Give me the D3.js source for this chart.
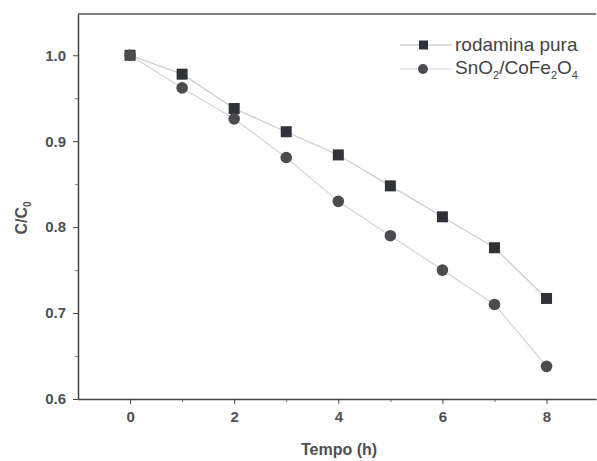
<!DOCTYPE html>
<html>
<head>
<meta charset="utf-8">
<script src="https://cdn.jsdelivr.net/npm/d3@7"></script>
<style>
  body { margin: 0; background: #fff; }
  text { font-family: "Liberation Sans", Arial, sans-serif; }
</style>
</head>
<body>
<div id="chart"></div>
<script>
// data
var tempo = [0, 1, 2, 3, 4, 5, 6, 7, 8]
var rodaminaPura = [1.0, 0.978, 0.938, 0.911, 0.884, 0.848, 0.812, 0.776, 0.717]
var snoCofe = [1.0, 0.962, 0.926, 0.881, 0.830, 0.790, 0.750, 0.710, 0.638]
var xTicks = [0, 2, 4, 6, 8]
var yTicks = [0.6, 0.7, 0.8, 0.9, 1.0]

var width = 597, height = 461
// plot box (note: "top" is reserved on window, so use prefixed names)
var pLeft = 78, pRight = 596, pTop = 14, pBottom = 399

var svg = d3.select('#chart')
    .append('svg')
    .attr('width', width)
    .attr('height', height)

var x = d3.scaleLinear().domain([-1, 8.95]).range([pLeft, pRight])
var y = d3.scaleLinear().domain([0.6, 1.048]).range([pBottom, pTop])

// frame (top line)
svg.append('line')
    .attr('x1', pLeft).attr('x2', pRight)
    .attr('y1', pTop).attr('y2', pTop)
    .attr('stroke', '#555')
    .attr('stroke-width', 1.5)

// minor ticks
svg.append('g')
    .attr('transform', 'translate(0,' + pBottom + ')')
    .call(d3.axisBottom(x).tickValues([1, 3, 5, 7]).tickSize(3).tickFormat(''))
    .call(function(g) { g.select('.domain').remove() })
    .selectAll('line').attr('stroke', '#777')

svg.append('g')
    .attr('transform', 'translate(' + pLeft + ',0)')
    .call(d3.axisLeft(y).tickValues([0.65, 0.75, 0.85, 0.95]).tickSize(3).tickFormat(''))
    .call(function(g) { g.select('.domain').remove() })
    .selectAll('line').attr('stroke', '#777')

var xAxis = svg.append('g')
    .attr('transform', 'translate(0,' + pBottom + ')')
    .call(d3.axisBottom(x).tickValues(xTicks).tickSize(5).tickPadding(7).tickSizeOuter(0))
xAxis.select('.domain').attr('stroke', '#444').attr('stroke-width', 1.5)
xAxis.selectAll('.tick line').attr('stroke', '#444')
xAxis.selectAll('text')
    .attr('font-size', 15).attr('font-weight', 'bold').attr('fill', '#505050')

var yAxis = svg.append('g')
    .attr('transform', 'translate(' + pLeft + ',0)')
    .call(d3.axisLeft(y).tickValues(yTicks).tickSize(5).tickPadding(7).tickSizeOuter(0)
        .tickFormat(d3.format('.1f')))
yAxis.select('.domain').attr('stroke', '#444').attr('stroke-width', 1.5)
yAxis.selectAll('.tick line').attr('stroke', '#444')
yAxis.selectAll('text')
    .attr('font-size', 15).attr('font-weight', 'bold').attr('fill', '#505050')

// axis titles
svg.append('text')
    .attr('x', 339)
    .attr('y', 455)
    .attr('text-anchor', 'middle')
    .attr('font-size', 16)
    .attr('font-weight', 'bold')
    .attr('fill', '#505050')
    .text('Tempo (h)')

var yl = svg.append('text')
    .attr('transform', 'translate(27,218) rotate(-90)')
    .attr('text-anchor', 'middle')
    .attr('font-size', 16)
    .attr('font-weight', 'bold')
    .attr('fill', '#505050')
yl.append('tspan').text('C/C')
yl.append('tspan').attr('font-size', 10).attr('dy', 4).text('0')

// lines
var line = d3.line()
    .x(function(d, i) { return x(tempo[i]) })
    .y(function(d) { return y(d) })

svg.append('path')
    .datum(rodaminaPura)
    .attr('d', line)
    .attr('fill', 'none')
    .attr('stroke', '#c8ccd0')
    .attr('stroke-width', 1.2)

svg.append('path')
    .datum(snoCofe)
    .attr('d', line)
    .attr('fill', 'none')
    .attr('stroke', '#d2d5d8')
    .attr('stroke-width', 1.2)

// markers
svg.selectAll('.sq')
    .data(rodaminaPura)
    .enter()
    .append('rect')
    .attr('class', 'sq')
    .attr('x', function(d, i) { return x(tempo[i]) - 5.5 })
    .attr('y', function(d) { return y(d) - 5.5 })
    .attr('width', 11)
    .attr('height', 11)
    .attr('fill', '#2f3238')

svg.selectAll('.ci')
    .data(snoCofe)
    .enter()
    .append('circle')
    .attr('class', 'ci')
    .attr('cx', function(d, i) { return x(tempo[i]) })
    .attr('cy', function(d) { return y(d) })
    .attr('r', 5.8)
    .attr('fill', '#4a4c50')

// legend
var lg = svg.append('g')
lg.append('line').attr('x1', 400).attr('x2', 452).attr('y1', 45).attr('y2', 45)
    .attr('stroke', '#b8bcc0').attr('stroke-width', 1.2)
lg.append('rect').attr('x', 419).attr('y', 40.5).attr('width', 9).attr('height', 9)
    .attr('fill', '#2f3238')
lg.append('text').attr('x', 455).attr('y', 51)
    .attr('font-size', 19).attr('fill', '#444').text('rodamina pura')

lg.append('line').attr('x1', 400).attr('x2', 452).attr('y1', 69).attr('y2', 69)
    .attr('stroke', '#d2d5d8').attr('stroke-width', 1.2)
lg.append('circle').attr('cx', 423).attr('cy', 69).attr('r', 5)
    .attr('fill', '#4a4c50')
var t2 = lg.append('text').attr('x', 455).attr('y', 74)
    .attr('font-size', 19).attr('fill', '#444')
t2.append('tspan').text('SnO')
t2.append('tspan').attr('font-size', 11).attr('dy', 5).text('2')
t2.append('tspan').attr('dy', -5).text('/CoFe')
t2.append('tspan').attr('font-size', 11).attr('dy', 5).text('2')
t2.append('tspan').attr('dy', -5).text('O')
t2.append('tspan').attr('font-size', 11).attr('dy', 5).text('4')
</script>
</body>
</html>
